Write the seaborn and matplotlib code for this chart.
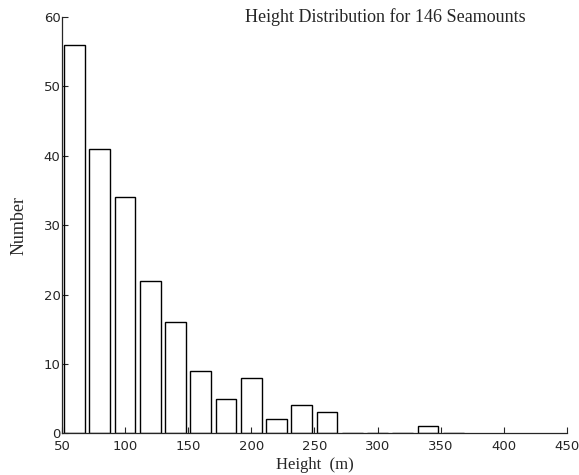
import matplotlib
matplotlib.use("Agg")
import matplotlib.pyplot as plt
import seaborn as sns

# -------------------------------
# Data: seamount height histogram (bins of 20 m)
# -------------------------------
bin_centers = [60, 80, 100, 120, 140, 160, 180, 200, 220, 240, 260, 340]
counts = [56, 41, 34, 22, 16, 9, 5, 8, 2, 4, 3, 1]
bin_edges = list(range(50, 371, 20))
x_ticks = [50, 100, 150, 200, 250, 300, 350, 400, 450]
y_ticks = [0, 10, 20, 30, 40, 50, 60]

# -------------------------------
# Plot
# -------------------------------
sns.set_style("ticks")
plt.rcParams["font.family"] = ["DejaVu Sans"]

fig = plt.figure(figsize=(5.79, 4.75), dpi=100)
ax = fig.add_axes([0.107, 0.088, 0.872, 0.876])

sns.histplot(x=bin_centers, weights=counts, bins=bin_edges, shrink=0.82,
             fill=False, color="black", linewidth=1.0, element="bars", ax=ax)

ax.set_xlim(50, 450)
ax.set_ylim(0, 60)
ax.set_xticks(x_ticks)
ax.set_yticks(y_ticks)
ax.tick_params(direction="in", length=4, width=0.8, labelsize=9.5)
ax.tick_params(axis="x", pad=5)
ax.tick_params(axis="y", pad=1)
sns.despine(ax=ax)
for s in ["left", "bottom"]:
    ax.spines[s].set_linewidth(0.9)

ax.set_xlabel("Height  (m)", family="Liberation Serif", fontsize=12, labelpad=3)
ax.set_ylabel("Number", family="Liberation Serif", fontsize=13, labelpad=12)
ax.text(0.64, 1.0, "Height Distribution for 146 Seamounts",
        transform=ax.transAxes, ha="center", va="center",
        family="Liberation Serif", fontsize=13)

plt.savefig("out.png", dpi=100)
plt.close()
